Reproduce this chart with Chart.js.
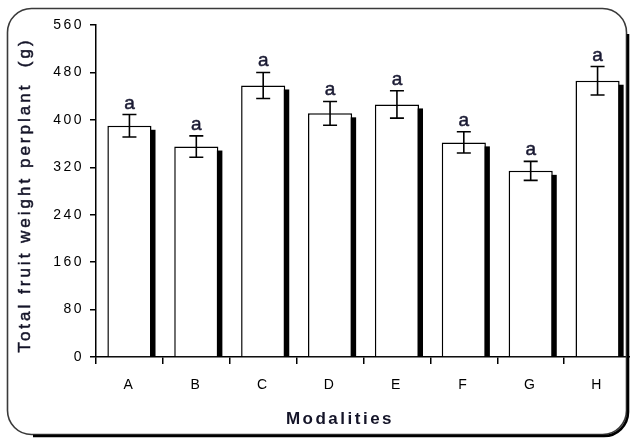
<!DOCTYPE html>
<html>
<head>
<meta charset="utf-8">
<script src="https://cdn.jsdelivr.net/npm/chart.js@4/dist/chart.umd.min.js"></script>
<style>
  html, body { margin: 0; padding: 0; background: #fff; overflow: hidden; width: 630px; height: 439px; }
  #wrap { position: relative; width: 640px; height: 439px; }
</style>
</head>
<body>
<div id="wrap"><canvas id="c" width="640" height="439"></canvas></div>
<script>
// Total fruit weight per plant for each modality (mean and standard error)
const categories = ['A', 'B', 'C', 'D', 'E', 'F', 'G', 'H'];
const meanWeight = [390, 355, 458, 411, 426, 362, 314, 466];
const stdError = [19, 18, 22, 20, 23, 18, 16, 24];
const groupLetters = ['a', 'a', 'a', 'a', 'a', 'a', 'a', 'a'];
const yTickValues = [0, 80, 160, 240, 320, 400, 480, 560];
const yTitle = 'Total fruit weight perplant  (g)';
const xTitle = 'Modalities';

const FONT = '"Liberation Sans", Arial, sans-serif';

// Filled text with a hairline outline of the same colour for a heavier look
function heavyText(ctx, text, x, y, width) {
  ctx.lineWidth = width;
  ctx.strokeStyle = ctx.fillStyle;
  ctx.fillText(text, x, y);
  ctx.strokeText(text, x, y);
}

// Solid black drop shadow behind each bar
const barShadow = {
  id: 'barShadow',
  beforeDatasetsDraw(chart) {
    const { ctx } = chart;
    const meta = chart.getDatasetMeta(0);
    ctx.save();
    ctx.fillStyle = '#000';
    meta.data.forEach(bar => {
      const { x, y, width, base } = bar.getProps(['x', 'y', 'width', 'base'], true);
      ctx.fillRect(x - width / 2 + 4, y + 4, width, base - y - 4);
    });
    ctx.restore();
  }
};

// Error bars with caps and the significance letters above them
const errorBars = {
  id: 'errorBars',
  afterDatasetsDraw(chart) {
    const { ctx } = chart;
    const ys = chart.scales.y;
    const meta = chart.getDatasetMeta(0);
    ctx.save();
    meta.data.forEach((bar, i) => {
      const x = bar.x;
      const hi = ys.getPixelForValue(meanWeight[i] + stdError[i]);
      const lo = ys.getPixelForValue(meanWeight[i] - stdError[i]);
      ctx.strokeStyle = '#000';
      ctx.lineWidth = 1.6;
      ctx.beginPath();
      ctx.moveTo(x, hi); ctx.lineTo(x, lo);
      ctx.moveTo(x - 7, hi); ctx.lineTo(x + 7, hi);
      ctx.moveTo(x - 7, lo); ctx.lineTo(x + 7, lo);
      ctx.stroke();
      ctx.letterSpacing = '0px';
      ctx.fillStyle = '#1a1a33';
      ctx.font = '19px ' + FONT;
      ctx.textAlign = 'center';
      ctx.textBaseline = 'alphabetic';
      heavyText(ctx, groupLetters[i], x, hi - 6, 0.5);
    });
    ctx.restore();
  }
};

// Background, spaced-out lettering, axis titles and the rounded frame
const decor = {
  id: 'decor',
  beforeDraw(chart) {
    const { ctx, width, height } = chart;
    ctx.save();
    ctx.fillStyle = '#fff';
    ctx.fillRect(0, 0, width, height);
    ctx.restore();
    ctx.letterSpacing = '2.5px';
  },
  afterDraw(chart) {
    const { ctx } = chart;
    ctx.save();
    // y axis title
    ctx.fillStyle = '#141428';
    ctx.letterSpacing = '3px';
    ctx.font = '17px ' + FONT;
    ctx.textAlign = 'center';
    ctx.textBaseline = 'middle';
    ctx.translate(25, 195);
    ctx.rotate(-Math.PI / 2);
    heavyText(ctx, yTitle, 0, 0, 0.5);
    ctx.restore();

    ctx.save();
    // x axis title
    ctx.fillStyle = '#141428';
    ctx.letterSpacing = '2.5px';
    ctx.font = 'bold 17px ' + FONT;
    ctx.textAlign = 'center';
    ctx.textBaseline = 'middle';
    ctx.fillText(xTitle, 340, 419);
    ctx.restore();

    // rounded frame around the whole figure
    ctx.save();
    ctx.strokeStyle = '#3a3a3a';
    ctx.lineWidth = 1.6;
    ctx.beginPath();
    ctx.roundRect(7.5, 8.5, 619, 426, 24);
    ctx.stroke();
    // heavier right and bottom edge
    const L = 9, T = 10, R = 628, B = 436, r = 24;
    ctx.strokeStyle = '#000';
    ctx.lineWidth = 2.6;
    ctx.beginPath();
    ctx.moveTo(R, T + r);
    ctx.lineTo(R, B - r);
    ctx.arcTo(R, B, R - r, B, r);
    ctx.lineTo(L + r, B);
    ctx.stroke();
    ctx.restore();
  }
};

new Chart(document.getElementById('c'), {
  type: 'bar',
  data: {
    labels: categories,
    datasets: [{
      data: meanWeight,
      backgroundColor: '#ffffff',
      borderColor: '#000000',
      borderWidth: 1.5,
      barPercentage: 0.66,
      categoryPercentage: 1
    }]
  },
  options: {
    responsive: false,
    animation: false,
    devicePixelRatio: 1,
    layout: { padding: { top: 25, left: 0, right: 9, bottom: 0 } },
    plugins: {
      legend: { display: false },
      tooltip: { enabled: false },
      title: { display: false }
    },
    scales: {
      x: {
        offset: true,
        grid: { offset: true, drawOnChartArea: false, tickLength: 7, color: '#000', lineWidth: 1.5 },
        border: { color: '#000', width: 1.5 },
        ticks: { color: '#000', font: { family: FONT, size: 14 }, padding: 13, maxRotation: 0 },
        afterFit(s) { s.height = 82; }
      },
      y: {
        min: 0,
        max: 560,
        afterBuildTicks(s) { s.ticks = yTickValues.map(v => ({ value: v })); },
        grid: { drawOnChartArea: false, tickLength: 6, color: '#000', lineWidth: 1.5 },
        border: { color: '#000', width: 1.5 },
        ticks: { color: '#000', font: { family: FONT, size: 14 }, padding: 6 },
        afterFit(s) { s.width = 96; }
      }
    }
  },
  plugins: [barShadow, errorBars, decor]
});
</script>
</body>
</html>
